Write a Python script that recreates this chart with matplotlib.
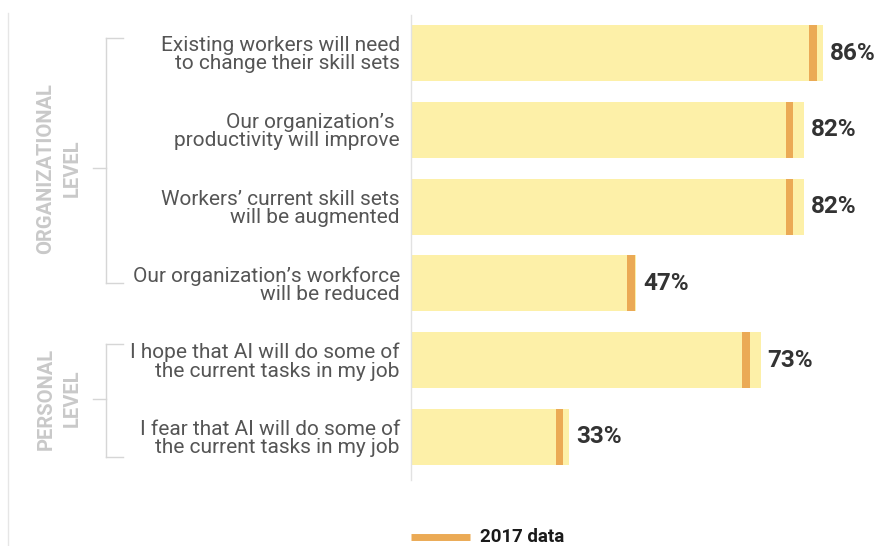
import matplotlib
matplotlib.use("Agg")
import matplotlib.pyplot as plt
from matplotlib.lines import Line2D
from matplotlib.transforms import blended_transform_factory

plt.rcParams['font.family'] = ['Roboto', 'DejaVu Sans']

# Survey statements and shares agreeing (current vs 2017)
statements = [
    "Existing workers will need\nto change their skill sets",
    "Our organization’s \nproductivity will improve",
    "Workers’ current skill sets\nwill be augmented",
    "Our organization’s workforce\nwill be reduced",
    "I hope that AI will do some of\nthe current tasks in my job",
    "I fear that AI will do some of\nthe current tasks in my job",
]
current_pct = [86, 82, 82, 47, 73, 33]
pct_2017 = [84, 79, 79, 46, 70, 31]
groups = ["ORGANIZATIONAL\nLEVEL", "PERSONAL\nLEVEL"]
group_rows = [(0, 3), (4, 5)]
legend_label = "2017 data"

BAR_COLOR = "#FDF0A8"
MARK_COLOR = "#EBAA55"
LABEL_COLOR = "#555555"
VALUE_COLOR = "#333333"
GROUP_COLOR = "#C9C9C9"
RULE_COLOR = "#D6D6D6"

W, H = 877, 546
fig = plt.figure(figsize=(W / 100, H / 100), dpi=100)
fig.patch.set_facecolor("white")

ax = fig.add_axes([411 / W, (H - 480) / H, (866 - 411) / W, 465 / H])
rows = list(range(len(statements)))
bar_h = 0.73

ax.barh(rows, current_pct, height=bar_h, color=BAR_COLOR, zorder=2)
mark_w = 1.6
ax.barh(rows, [mark_w] * len(rows), left=[v - mark_w / 2 for v in pct_2017],
        height=bar_h, color=MARK_COLOR, zorder=3)

for r, v in zip(rows, current_pct):
    ax.annotate(f"{v}%", xy=(v, r), xytext=(7, 0), textcoords="offset pixels",
                ha="left", va="center", fontsize=17.5, fontweight="bold",
                color=VALUE_COLOR)

ax.set_xlim(0, 95)
ax.set_ylim(5.56, -0.495)
ax.set_xticks([])
ax.set_yticks(rows)
ax.set_yticklabels(statements, ha="right", multialignment="right",
                   linespacing=0.95, color=LABEL_COLOR, fontsize=15)
ax.tick_params(axis="y", length=0, pad=8)
for s in ("top", "right", "bottom"):
    ax.spines[s].set_visible(False)
ax.spines["left"].set_color("#E2E2E2")
ax.spines["left"].set_linewidth(1)
ax.set_facecolor("none")

# Group brackets and rotated group names
tr = blended_transform_factory(fig.transFigure, ax.transData)
x_v, x_in, x_out = 106 / W, 123 / W, 93 / W
spans = [(-0.2, 3.0), (3.79, 5.26)]
for name, (a, b), (top, bot) in zip(groups, group_rows, spans):
    mid = (a + b) / 2
    for xs, ys in [([x_v, x_v], [top, bot]),
                   ([x_v, x_in], [top, top]),
                   ([x_v, x_in], [bot, bot]),
                   ([x_out, x_v], [mid, mid])]:
        fig.add_artist(Line2D(xs, ys, transform=tr, color=RULE_COLOR, lw=1))
    fig.text(59 / W, mid, name, transform=tr, rotation=90, ha="center",
             va="center", multialignment="center", linespacing=1.45,
             fontsize=14.5, fontweight="bold", color=GROUP_COLOR)

# Faint frame line on the left edge
fig.add_artist(Line2D([8 / W, 8 / W], [0, (H - 13) / H],
                      transform=fig.transFigure, color="#E6E6E6", lw=1))

# Legend for the 2017 marker
ly = (H - 537) / H
fig.add_artist(Line2D([411 / W, 470 / W], [ly, ly], transform=fig.transFigure,
                      color=MARK_COLOR, lw=5, solid_capstyle="butt"))
fig.text(480 / W, ly, legend_label, ha="left", va="center", fontsize=13.5,
         fontweight="bold", color="#1a1a1a")

fig.savefig("out.png", dpi=100, facecolor="white")
